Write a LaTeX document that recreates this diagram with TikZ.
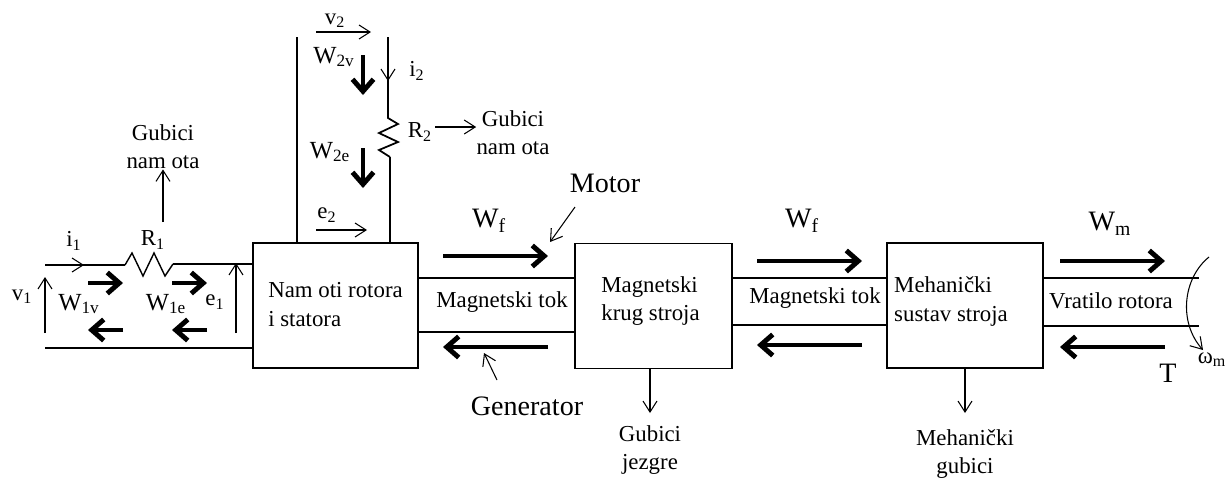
\documentclass[tikz,border=0pt]{standalone}
\usepackage{fontspec}
\setmainfont{Liberation Serif}
\usepackage{tikz}
\usetikzlibrary{positioning}
\usetikzlibrary{shapes,calc,arrows.meta}

\tikzset{
    blok/.style={draw, line width=0.8pt, minimum height=2.5cm, inner sep=0pt},
    wire/.style={line width=1.5pt},
    tanka/.style={line width=0.6pt},
    tanko/.style={line width=0.6pt, -{Straight Barb[length=2.2mm,width=2.8mm]}},
    debelo/.style={line width=2.8pt, -{Straight Barb[length=2.4mm,width=4.2mm]}},
    lbl/.style={font=\fontsize{13}{16}\selectfont, inner sep=0pt},
    wlbl/.style={font=\fontsize{14}{16}\selectfont, inner sep=0pt},
    veliki/.style={font=\fontsize{16}{19}\selectfont, inner sep=0pt}
}

\begin{document}
\begin{tikzpicture}[x=0.02cm,y=-0.02cm]
    \useasboundingbox (0,0) rectangle (1231,485);

    % Blocks
    \node[blok, minimum width=3.3cm] (namoti) at (335.5,305.5) {};
    \node[blok, minimum width=3.14cm] (magkrug) at (653.5,306) {};
    \node[blok, minimum width=3.12cm] (mehsustav) at (965,305.5) {};
    \node[lbl, align=left] (namotitxt) at ($(namoti)+(0,-1)$) {Nam oti rotora\\i statora};
    \node[lbl, align=left] (magkrugtxt) at ($(magkrug)+(-3,-5)$) {Magnetski\\krug stroja};
    \node[lbl, align=left] (mehsustavtxt) at ($(mehsustav)+(-14,-4)$) {Mehanički\\sustav stroja};

    % Stator circuit
    \coordinate (s1) at (45,265); % top left end
    \coordinate (s2) at (45,348); % bottom left end
    \draw[wire] (s1) -- (125,265);
    \draw[line width=0.8pt] (125,265) -- (132,253) -- (143,276) -- (154,253) -- (165,276) -- (173,264); % R1
    \draw[wire] (173,264) -- (namoti.west |- 0,264);
    \draw[wire] (s2) -- (namoti.west |- s2);
    \draw[tanko] (s1) -- (84,265); % i1
    \draw[tanko] (45,333) -- (45,277); % v1
    \draw[tanko] (236,333) -- (236,263); % e1
    \foreach \x in {88,172}{
        \draw[debelo] (\x,283) -- ++(35,0);
        \draw[debelo] (\x+35,330) -- (\x,330);
    }
    \node[lbl] (i1) at (74,241) {i\textsubscript{1}};
    \node[lbl] (R1) at (153,240) {R\textsubscript{1}};
    \node[lbl] (v1) at (22,297) {v\textsubscript{1}};
    \node[lbl] (e1) at (215,302) {e\textsubscript{1}};
    \node[wlbl] (W1v) at (79,304) {W\textsubscript{1v}};
    \node[wlbl] (W1e) at (166,304) {W\textsubscript{1e}};
    \node[lbl, align=center] (gub1) at (163,147) {Gubici\\nam ota};
    \draw[tanko] (163,222) -- (gub1.south);

    % Rotor circuit
    \coordinate (r1) at (297,37); % left top end
    \coordinate (r2) at (388,37); % right top end
    \draw[wire] (r1) -- (r1 |- namoti.north);
    \draw[line width=1pt] (r2) -- (388,118) -- (398,124) -- (379,133) -- (398,142) -- (379,150) -- (390,157); % R2
    \draw[wire] (390,157) -- (390,157 |- namoti.north);
    \draw[tanko] (r2) -- (388,81); % i2
    \draw[tanko] (316,32) -- (371,32); % v2
    \draw[tanko] (316,230) -- (367,230); % e2
    \foreach \y in {55,148}
        \draw[debelo] (363,\y) -- ++(0,40);
    \node[lbl] (v2) at (335,21) {v\textsubscript{2}};
    \node[lbl] (i2) at (417,71) {i\textsubscript{2}};
    \node[lbl] (R2) at (420,132) {R\textsubscript{2}};
    \node[lbl] (e2) at (327,215) {e\textsubscript{2}};
    \node[wlbl] (W2v) at (334,57) {W\textsubscript{2v}};
    \node[wlbl] (W2e) at (330,152) {W\textsubscript{2e}};
    \node[lbl, align=center] (gub2) at (513,133) {Gubici\\nam ota};
    \draw[tanko] (435,127) -- (gub2.west |- 0,127);

    % Flux channels and shaft
    \draw[tanka] (namoti.east |- 0,278) -- (magkrug.west |- 0,278);
    \draw[tanka] (namoti.east |- 0,332) -- (magkrug.west |- 0,332);
    \draw[tanka] (magkrug.east |- 0,278) -- (mehsustav.west |- 0,278);
    \draw[tanka] (magkrug.east |- 0,325) -- (mehsustav.west |- 0,325);
    \coordinate (k1) at (1199,278); % shaft end
    \coordinate (k2) at (1199,326);
    \draw[tanka] (mehsustav.east |- k1) -- (k1);
    \draw[tanka] (mehsustav.east |- k2) -- (k2);

    % Energy flow arrows
    \foreach \xa/\ya/\yb in {443/256/347, 757/261/345, 1060/261/347}{
        \draw[debelo] (\xa,\ya) -- ++(105,0);
        \draw[debelo] (\xa+105,\yb) -- (\xa,\yb);
    }
    \node[veliki] (Wf1) at (489,221) {W\textsubscript{f}};
    \node[veliki] (Wf2) at (802,221) {W\textsubscript{f}};
    \node[veliki] (Wm) at (1110,224) {W\textsubscript{m}};
    \node[lbl] (tok1) at (502,302) {Magnetski tok};
    \node[lbl] (tok2) at (815,298) {Magnetski tok};
    \node[lbl] (vratilo) at (1111,301) {Vratilo rotora};

    % Motor / generator
    \node[veliki] (motor) at (605,183) {Motor};
    \node[veliki] (gen) at (527,406) {Generator};
    \draw[tanko] (575,207) -- (550,242);
    \draw[tanko] (497,380) -- (484,353);

    % Losses
    \node[lbl, align=center] (gubjez) at (650,450) {Gubici\\jezgre};
    \node[lbl, align=center] (gubmeh) at (965,454) {Mehanički\\gubici};
    \draw[tanko] (magkrug.south -| 650,0) -- (650,413);
    \draw[tanko] (mehsustav.south) -- (965,413);

    % Torque and speed
    \node[veliki] (T) at (1168,373) {T};
    \node[lbl] (omega) at (1212,360) {ω\textsubscript{m}};
    \draw[tanko] (1209,257) .. controls (1183,278) and (1178,322) .. (1203,350);
\end{tikzpicture}
\end{document}
